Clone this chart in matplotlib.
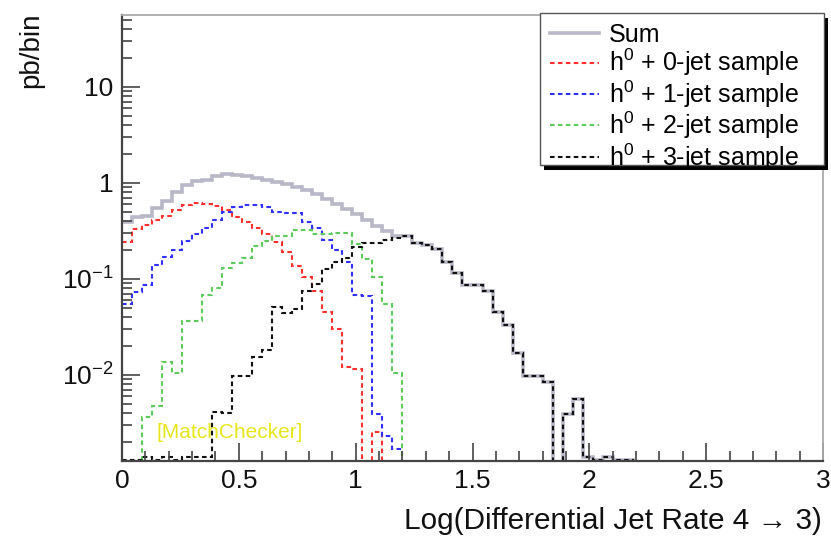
import numpy as np
import matplotlib
matplotlib.use("Agg")
import matplotlib.pyplot as plt
from matplotlib.patches import Rectangle
from matplotlib.ticker import FixedLocator, LogLocator, NullFormatter, MultipleLocator

plt.rcParams["font.family"] = ["Liberation Sans", "DejaVu Sans"]
plt.rcParams["mathtext.default"] = "regular"

# 70 bins between 0 and 3
x_min, x_max, n_bins = 0.0, 3.0, 70

# per-bin values (pb/bin)
sum_all = [0.39, 0.44, 0.45, 0.55, 0.64, 0.79, 0.95, 1.03, 1.07, 1.16,
           1.23, 1.20, 1.16, 1.12, 1.07, 1.02, 0.97, 0.90, 0.84, 0.76,
           0.68, 0.60, 0.53, 0.47, 0.41, 0.35, 0.31, 0.28, 0.28, 0.236,
           0.225, 0.205, 0.148, 0.115, 0.086, 0.085, 0.075, 0.045, 0.033, 0.017,
           0.0096, 0.0096, 0.0083, 0, 0.0039, 0.0056, 0.0014, 0.0013, 0.0014, 0.0013,
           0.0013, 0, 0, 0, 0, 0, 0, 0, 0, 0,
           0, 0, 0, 0, 0, 0, 0, 0, 0, 0]
jet0 = [0.24, 0.33, 0.36, 0.41, 0.45, 0.52, 0.59, 0.62, 0.60, 0.575,
        0.52, 0.44, 0.39, 0.34, 0.29, 0.24, 0.19, 0.135, 0.105, 0.075,
        0.045, 0.030, 0.012, 0.0115, 0, 0.0025, 0, 0, 0, 0] + [0] * 40
jet1 = [0.055, 0.072, 0.085, 0.14, 0.17, 0.20, 0.245, 0.29, 0.34, 0.41,
        0.49, 0.56, 0.59, 0.59, 0.56, 0.50, 0.48, 0.48, 0.39, 0.34,
        0.25, 0.20, 0.15, 0.068, 0.066, 0.0039, 0.0023, 0.0017, 0, 0] + [0] * 40
jet2 = [0, 0, 0.0036, 0.0047, 0.0135, 0.0105, 0.036, 0.036, 0.068, 0.080,
        0.128, 0.145, 0.165, 0.22, 0.245, 0.275, 0.275, 0.32, 0.32, 0.29,
        0.29, 0.30, 0.30, 0.23, 0.16, 0.105, 0.055, 0.0105, 0, 0] + [0] * 40
jet3 = [0.0013, 0.0013, 0.0014, 0.0013, 0.0014, 0.0013, 0.0014, 0.0014, 0.0014, 0.0041,
        0.0040, 0.0096, 0.0096, 0.0153, 0.018, 0.051, 0.044, 0.048, 0.074, 0.087,
        0.125, 0.15, 0.165, 0.215, 0.236, 0.236, 0.25, 0.265, 0.275, 0.236,
        0.225, 0.205, 0.148, 0.115, 0.086, 0.085, 0.075, 0.045, 0.033, 0.017,
        0.0096, 0.0096, 0.0083, 0, 0.0039, 0.0056, 0.0014, 0.0013, 0.0014, 0.0013,
        0.0013, 0, 0, 0, 0, 0, 0, 0, 0, 0,
        0, 0, 0, 0, 0, 0, 0, 0, 0, 0]

labels = ["Sum", "h$^0$ + 0-jet sample", "h$^0$ + 1-jet sample",
          "h$^0$ + 2-jet sample", "h$^0$ + 3-jet sample"]
y_ticks = [0.01, 0.1, 1, 10]
y_tick_labels = ["10$^{-2}$", "10$^{-1}$", "1", "10"]
x_ticks = [0, 0.5, 1, 1.5, 2, 2.5, 3]
x_tick_labels = ["0", "0.5", "1", "1.5", "2", "2.5", "3"]

edges = np.linspace(x_min, x_max, n_bins + 1)
y_lo, y_hi = 1.26e-3, 55.8

fig = plt.figure(figsize=(8.31, 5.39), dpi=100)
ax = fig.add_axes([0.1468, 0.1447, 0.8436, 0.8275])


def draw(vals, **kw):
    v = np.asarray(vals, dtype=float)
    v = np.where(v > 0, v, 1e-5)  # empty bins drop to the floor
    return ax.stairs(v, edges, baseline=None, **kw)


dash = (0, (2.2, 1.6))
draw(sum_all, color="#b8b8c8", lw=2.6, label=labels[0])
draw(jet0, color="#ff3030", lw=1.5, ls=dash, label=labels[1])
draw(jet1, color="#3030ff", lw=1.5, ls=dash, label=labels[2])
draw(jet2, color="#5ccc5c", lw=1.5, ls=dash, label=labels[3])
draw(jet3, color="#111111", lw=1.5, ls=dash, label=labels[4])

ax.set_yscale("log")
ax.set_xlim(x_min, x_max)
ax.set_ylim(y_lo, y_hi)

ax.yaxis.set_major_locator(FixedLocator(y_ticks))
ax.set_yticklabels(y_tick_labels)
ax.yaxis.set_minor_locator(LogLocator(base=10, subs=np.arange(2, 10)))
ax.yaxis.set_minor_formatter(NullFormatter())
ax.set_xticks(x_ticks)
ax.set_xticklabels(x_tick_labels)
ax.xaxis.set_minor_locator(MultipleLocator(0.1))

ax.tick_params(which="both", direction="in", top=False, right=False,
               color="#444444", width=1.2, labelsize=19, labelcolor="#111111")
ax.tick_params(which="major", length=13, pad=6)
ax.tick_params(which="minor", length=7)

for s in ["left", "bottom"]:
    ax.spines[s].set_color("#444444")
    ax.spines[s].set_linewidth(1.6)
for s in ["top", "right"]:
    ax.spines[s].set_color("#aaaaaa")
    ax.spines[s].set_linewidth(1.3)

fig.text(0.037, 0.976, "pb/bin", rotation=90, ha="center", va="top",
         fontsize=20, color="#111111")
fig.text(0.989, 0.033, "Log(Differential Jet Rate 4 \u2192 3)", ha="right",
         va="center", fontsize=21.4, color="#111111")

ax.text(0.462, 0.0025, "[MatchChecker]", color="#e6e61a", fontsize=15,
        ha="center", va="center")

# legend box with a ROOT-like black drop shadow
bx, by, bw, bh = 0.5963, 0.6637, 0.405, 0.3408
ax.add_patch(Rectangle((bx + 0.0057, by - 0.0112), bw, bh, transform=ax.transAxes,
                       facecolor="black", edgecolor="none", zorder=4.9, clip_on=False))
ax.add_patch(Rectangle((bx, by), bw, bh, transform=ax.transAxes, facecolor="white",
                       edgecolor="#555555", lw=1.0, zorder=5, clip_on=False))

leg = ax.legend(loc="upper left", bbox_to_anchor=(0.6106, 0.982),
                borderaxespad=0, borderpad=0, fontsize=18, frameon=False,
                handlelength=1.96, handletextpad=0.4, labelspacing=0.0)
leg.set_zorder(6)

fig.savefig("out.png", dpi=100)
